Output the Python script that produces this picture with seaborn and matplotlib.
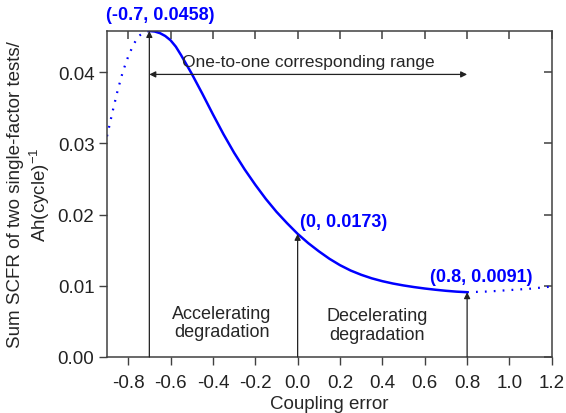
import numpy as np
import pandas as pd
import matplotlib
matplotlib.use("Agg")
import matplotlib.pyplot as plt
import matplotlib.lines as mlines
import seaborn as sns

# curve (y in units of 1e-4)
solid_x = [-0.700, -0.675, -0.650, -0.625, -0.600, -0.575, -0.550, -0.50, -0.45, -0.40,
           -0.35, -0.30, -0.25, -0.20, -0.15, -0.10, -0.05, 0.00, 0.05, 0.10,
           0.15, 0.20, 0.25, 0.30, 0.35, 0.40, 0.45, 0.50, 0.55, 0.60,
           0.65, 0.70, 0.75, 0.80]
solid_y = [458, 457.3, 455, 451, 445, 436, 424, 398, 370, 341,
           313, 287, 263.5, 242, 222, 204, 188, 173, 160, 148.5,
           138, 129, 121.5, 115.5, 110.5, 106.5, 103.2, 100.5, 98.2, 96.2,
           94.5, 93.0, 91.8, 91.0]
left_x = [-0.900, -0.875, -0.850, -0.825, -0.800, -0.775, -0.750, -0.725, -0.700]
left_y = [310, 343, 374, 401, 422, 439, 451, 456, 458]
right_x = [0.8, 0.9, 1.0, 1.1, 1.2]
right_y = [91, 92, 94, 96, 99]

key_points = [(-0.7, 0.0458), (0.0, 0.0173), (0.8, 0.0091)]
x_ticks = [-0.8, -0.6, -0.4, -0.2, 0.0, 0.2, 0.4, 0.6, 0.8, 1.0, 1.2]
y_ticks = [0.00, 0.01, 0.02, 0.03, 0.04]

sns.set_style("ticks")
plt.rcParams['font.family'] = ['Liberation Sans', 'DejaVu Sans']
plt.rcParams['mathtext.fontset'] = 'custom'
plt.rcParams['mathtext.rm'] = 'Liberation Sans'

fig = plt.figure(figsize=(5.66, 4.14), dpi=100)
ax = fig.add_axes([0.189, 0.1353, 0.786, 0.7874])

blue = '#0000ff'
grey = '#404040'
dots = (0, (0.8, 3.2))
sns.lineplot(x=solid_x, y=np.array(solid_y) * 1e-4, ax=ax, color=blue, lw=1.8, sort=False)
sns.lineplot(x=left_x, y=np.array(left_y) * 1e-4, ax=ax, color=blue, lw=1.6, sort=False, linestyle=dots)
sns.lineplot(x=right_x, y=np.array(right_y) * 1e-4, ax=ax, color=blue, lw=1.6, sort=False, linestyle=dots)

ax.set_xlim(-0.9, 1.2)
ax.set_ylim(0, 0.0458)
ax.set_xticks(x_ticks)
ax.set_xticklabels([f'{v:.1f}' for v in x_ticks])
ax.set_yticks(y_ticks)
ax.set_yticklabels([f'{v:.2f}' for v in y_ticks])
ax.tick_params(direction='out', length=6, width=1, color=grey, labelcolor='#222222',
               labelsize=13.5, top=True, right=True, labeltop=False, labelright=False)
ax.tick_params(axis='x', pad=6)
ax.tick_params(axis='y', pad=3)
for s in ax.spines.values():
    s.set_color(grey)
    s.set_linewidth(1.1)

ax.set_xlabel('Coupling error', fontsize=13.5, labelpad=3)
ax.set_ylabel('Sum SCFR of two single-factor tests/\nAh(cycle)$^{\\mathregular{-1}}$',
              fontsize=13.5, labelpad=4)

# vertical markers with arrow heads
arrow = dict(arrowstyle='-|>', color='#222222', lw=0.9, mutation_scale=9, shrinkA=0, shrinkB=0)
for (px, py) in key_points:
    ax.annotate('', xy=(px, py), xytext=(px, 0), arrowprops=arrow)
ax.annotate('', xy=(-0.7, 0.0397), xytext=(0.8, 0.0397),
            arrowprops=dict(arrowstyle='<|-|>', color='#222222', lw=0.9, mutation_scale=9,
                            shrinkA=0, shrinkB=0))

ax.text(0.05, 0.0415, 'One-to-one corresponding range', ha='center', va='center', fontsize=12.5)
ax.text(-0.357, 0.0048, 'Accelerating\ndegradation', ha='center', va='center', fontsize=13,
        linespacing=1.1)
ax.text(0.374, 0.0045, 'Decelerating\ndegradation', ha='center', va='center', fontsize=13,
        linespacing=1.1)

ax.text(-0.65, 0.0481, '(-0.7, 0.0458)', ha='center', va='center', fontsize=13,
        fontweight='bold', color=blue, clip_on=False)
ax.text(0.012, 0.0191, '(0, 0.0173)', ha='left', va='center', fontsize=13,
        fontweight='bold', color=blue)
ax.text(0.624, 0.01135, '(0.8, 0.0091)', ha='left', va='center', fontsize=13,
        fontweight='bold', color=blue)

# mirrored ticks on top and right point inwards
fig.canvas.draw()
for t in ax.xaxis.get_major_ticks():
    t.tick2line.set_marker(mlines.TICKDOWN)
    t.tick2line.set_markersize(6)
    t.tick2line.set_markeredgecolor(grey)
    t.tick2line.set_markeredgewidth(1.1)
for t in ax.yaxis.get_major_ticks():
    t.tick2line.set_marker(mlines.TICKLEFT)
    t.tick2line.set_markersize(6)
    t.tick2line.set_markeredgecolor(grey)
    t.tick2line.set_markeredgewidth(1.1)

fig.savefig('out.png', dpi=100)
